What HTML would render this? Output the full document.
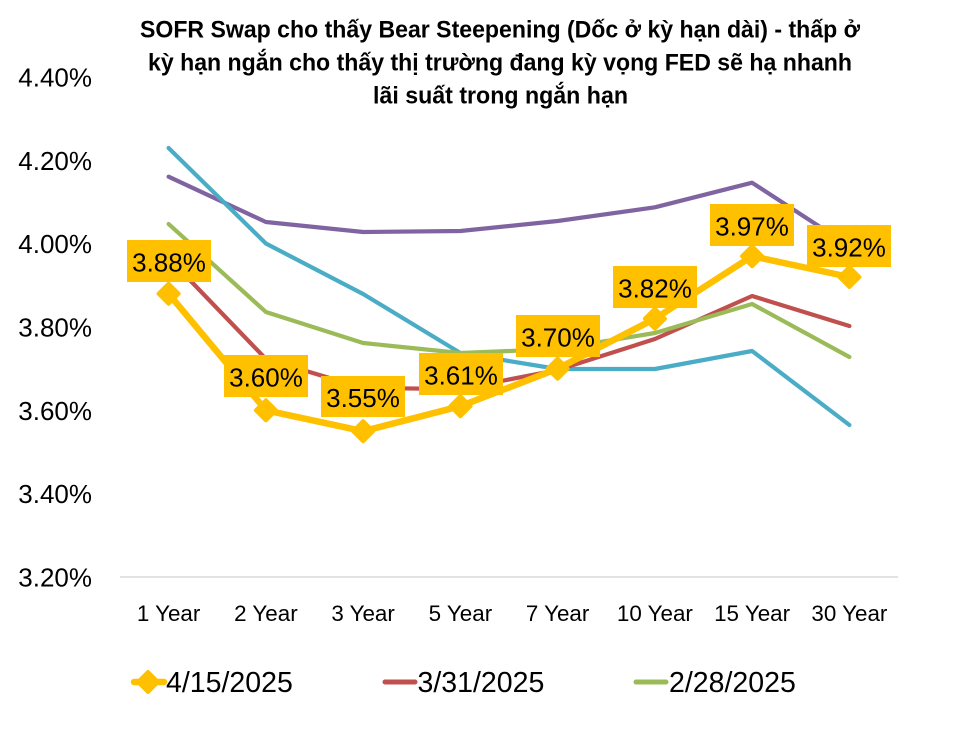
<!DOCTYPE html>
<html><head><meta charset="utf-8"><style>
html,body{margin:0;padding:0;background:#fff;}
svg{display:block;}
text{font-family:"Liberation Sans","DejaVu Sans",sans-serif;fill:#000;}
.t{font-weight:bold;font-size:24.5px;}
.yl{font-size:26px;text-anchor:end;}
.xl{font-size:22.4px;text-anchor:middle;}
.dl{font-size:26px;text-anchor:middle;}
.lg{font-size:28.5px;}
</style></head><body>
<svg width="961" height="737" viewBox="0 0 961 737" xmlns="http://www.w3.org/2000/svg">
<rect width="961" height="737" fill="#fff"/>
<!-- title -->
<text class="t" x="140" y="37.7" textLength="720" lengthAdjust="spacingAndGlyphs">SOFR Swap cho thấy Bear Steepening (Dốc ở kỳ hạn dài) - thấp ở</text>
<text class="t" x="148" y="70.7" textLength="704" lengthAdjust="spacingAndGlyphs">kỳ hạn ngắn cho thấy thị trường đang kỳ vọng FED sẽ hạ nhanh</text>
<text class="t" x="373" y="103.5" textLength="255" lengthAdjust="spacingAndGlyphs">lãi suất trong ngắn hạn</text>
<!-- y labels -->
<text class="yl" x="92" y="86.5">4.40%</text>
<text class="yl" x="92" y="169.8">4.20%</text>
<text class="yl" x="92" y="253.2">4.00%</text>
<text class="yl" x="92" y="336.5">3.80%</text>
<text class="yl" x="92" y="419.8">3.60%</text>
<text class="yl" x="92" y="503.2">3.40%</text>
<text class="yl" x="92" y="586.5">3.20%</text>
<!-- axis -->
<line x1="120" y1="577" x2="898" y2="577" stroke="#D9D9D9" stroke-width="1.5"/>
<!-- x labels -->
<text class="xl" x="168.6" y="621">1 Year</text>
<text class="xl" x="265.9" y="621">2 Year</text>
<text class="xl" x="363.1" y="621">3 Year</text>
<text class="xl" x="460.4" y="621">5 Year</text>
<text class="xl" x="557.6" y="621">7 Year</text>
<text class="xl" x="654.9" y="621">10 Year</text>
<text class="xl" x="752.1" y="621">15 Year</text>
<text class="xl" x="849.4" y="621">30 Year</text>
<!-- series -->
<g fill="none" stroke-width="4.2" stroke-linejoin="round" stroke-linecap="round">
<polyline stroke="#8064A2" points="168.6,176.7 265.9,222 363.1,232 460.4,231 557.6,221 654.9,207.3 752.1,182.7 849.4,246"/>
<polyline stroke="#4BACC6" points="168.6,148 265.9,243.5 363.1,294 460.4,353 557.6,369 654.9,369 752.1,351 849.4,425"/>
<polyline stroke="#C0504D" points="168.6,258 265.9,359 363.1,388 460.4,389 557.6,370 654.9,339 752.1,296 849.4,326"/>
<polyline stroke="#9BBB59" points="168.6,224 265.9,312 363.1,343 460.4,353 557.6,349 654.9,333 752.1,304 849.4,357"/>
<polyline stroke="#FFC000" stroke-width="6.5" points="168.6,293.7 265.9,410.3 363.1,431.2 460.4,406.2 557.6,368.7 654.9,318.7 752.1,256.2 849.4,277"/>
</g>
<!-- markers -->
<g fill="#FFC000" stroke="#FFC000" stroke-width="4" stroke-linejoin="round">
<polygon points="168.6,283.7 178.6,293.7 168.6,303.7 158.6,293.7"/>
<polygon points="265.9,400.3 275.9,410.3 265.9,420.3 255.9,410.3"/>
<polygon points="363.1,421.2 373.1,431.2 363.1,441.2 353.1,431.2"/>
<polygon points="460.4,396.2 470.4,406.2 460.4,416.2 450.4,406.2"/>
<polygon points="557.6,358.7 567.6,368.7 557.6,378.7 547.6,368.7"/>
<polygon points="654.9,308.7 664.9,318.7 654.9,328.7 644.9,318.7"/>
<polygon points="752.1,246.2 762.1,256.2 752.1,266.2 742.1,256.2"/>
<polygon points="849.4,267 859.4,277 849.4,287 839.4,277"/>
</g>
<!-- data labels -->
<g fill="#FFC000">
<rect x="127" y="240" width="84" height="42"/>
<rect x="224" y="355" width="84" height="42"/>
<rect x="321" y="376" width="84" height="41"/>
<rect x="419" y="353" width="84" height="42"/>
<rect x="516" y="315" width="84" height="42"/>
<rect x="613" y="266" width="84" height="42"/>
<rect x="710" y="204" width="84" height="42"/>
<rect x="807" y="225" width="84" height="42"/>
</g>
<text class="dl" x="169" y="271.7">3.88%</text>
<text class="dl" x="266" y="386.7">3.60%</text>
<text class="dl" x="363" y="407.2">3.55%</text>
<text class="dl" x="461" y="384.7">3.61%</text>
<text class="dl" x="558" y="346.7">3.70%</text>
<text class="dl" x="655" y="297.7">3.82%</text>
<text class="dl" x="752" y="235.7">3.97%</text>
<text class="dl" x="849" y="256.7">3.92%</text>
<!-- legend -->
<line x1="134" y1="682" x2="164" y2="682" stroke="#FFC000" stroke-width="6.5" stroke-linecap="round"/>
<polygon points="148,672 158,682 148,692 138,682" fill="#FFC000" stroke="#FFC000" stroke-width="4" stroke-linejoin="round"/>
<text class="lg" x="166" y="692">4/15/2025</text>
<line x1="385" y1="682" x2="415" y2="682" stroke="#C0504D" stroke-width="5" stroke-linecap="round"/>
<text class="lg" x="417.5" y="692">3/31/2025</text>
<line x1="636" y1="682" x2="666" y2="682" stroke="#9BBB59" stroke-width="5" stroke-linecap="round"/>
<text class="lg" x="669" y="692">2/28/2025</text>
</svg>
</body></html>
